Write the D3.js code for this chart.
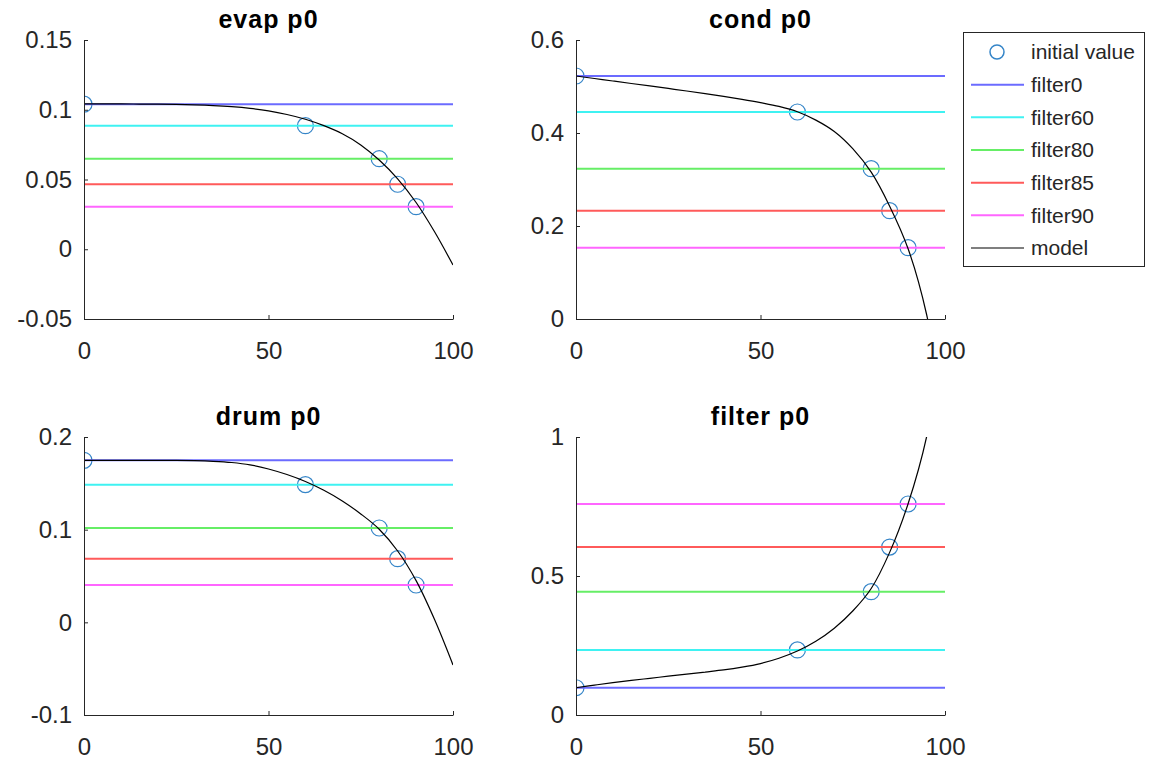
<!DOCTYPE html>
<html lang="en">
<head>
  <meta charset="UTF-8">
  <title>p0 filters</title>
  <style>
    body { margin: 0; background: #fff; }
    svg { font-family: "Liberation Sans", Arial, sans-serif; }
    .tick text { fill: #262626; font-size: 24px; }
    .domain, .tick line { stroke: #262626; stroke-width: 1; }
    .title { font-size: 25px; font-weight: bold; fill: #000; letter-spacing: 1px; }
    .legend text { font-size: 21px; fill: #262626; }
  </style>
</head>
<body>
  <script src="https://d3js.org/d3.v7.min.js"></script>
  <script>
    // x positions of the initial values (filter percentages)
    const filterX = [0, 60, 80, 85, 90];
    const seriesNames = ["filter0", "filter60", "filter80", "filter85", "filter90"];
    const seriesColors = ["#6b6bff", "#3ff2f2", "#66ee66", "#ff5a5a", "#ff66ff"];
    const panelTitles = ["evap p0", "cond p0", "drum p0", "filter p0"];
    const xTicks = [0, 50, 100];

    // initial values, one per filter
    const evapInit = [0.104, 0.0886, 0.0649, 0.0466, 0.0305];
    const condInit = [0.5226, 0.4452, 0.3233, 0.2330, 0.1534];
    const drumInit = [0.1748, 0.1486, 0.1018, 0.0687, 0.0403];
    const filterInit = [0.098, 0.234, 0.4436, 0.604, 0.759];

    // model curve, every 5 units
    const modelX = [0, 5, 10, 15, 20, 25, 30, 35, 40, 45, 50, 55, 60, 65, 70, 75, 80, 85, 90, 95, 100];
    const evapModel = [0.1042, 0.1042, 0.1042, 0.1041, 0.1040, 0.1038, 0.1035, 0.1030, 0.1022, 0.1010, 0.0992,
                       0.0966, 0.0932, 0.0886, 0.0828, 0.0748, 0.0640, 0.0505, 0.0335, 0.0125, -0.0113];
    const condModel = [0.5226, 0.5172, 0.5118, 0.5065, 0.5012, 0.4958, 0.4903, 0.4846, 0.4786, 0.4722, 0.4652,
                       0.4572, 0.4457, 0.4277, 0.4032, 0.3662, 0.3157, 0.2427, 0.1512, 0.0102, -0.2218];
    const drumModel = [0.1748, 0.1748, 0.1748, 0.1748, 0.1748, 0.1748, 0.1745, 0.1738, 0.1725, 0.1700, 0.1655,
                       0.1595, 0.1520, 0.1425, 0.1310, 0.1170, 0.1005, 0.0770, 0.0450, 0.0030, -0.0460];
    const filterModel = [0.098, 0.1075, 0.1165, 0.1245, 0.132, 0.1395, 0.147, 0.1545, 0.162, 0.172, 0.185,
                         0.204, 0.230, 0.265, 0.312, 0.374, 0.455, 0.585, 0.760, 1.0, 1.4];

    // y limits and ticks per panel
    const yDomains = [[-0.05, 0.15], [0, 0.6], [-0.1, 0.2], [0, 1]];
    const yTicks = [[-0.05, 0, 0.05, 0.1, 0.15], [0, 0.2, 0.4, 0.6], [-0.1, 0, 0.1, 0.2], [0, 0.5, 1]];

    const inits = [evapInit, condInit, drumInit, filterInit];
    const models = [evapModel, condModel, drumModel, filterModel];

    // axes boxes in pixels
    const boxes = [
      {left: 84, right: 453, top: 40, bottom: 319},
      {left: 576, right: 945, top: 40, bottom: 319},
      {left: 84, right: 453, top: 437, bottom: 715},
      {left: 576, right: 945, top: 437, bottom: 715}
    ];

    const width = 1149, height = 764;
    const svg = d3.select("body").append("svg")
      .attr("width", width)
      .attr("height", height);

    const defs = svg.append("defs");

    boxes.forEach((b, i) => {
      const x = d3.scaleLinear().domain([0, 100]).range([b.left, b.right]);
      const y = d3.scaleLinear().domain(yDomains[i]).range([b.bottom, b.top]);

      defs.append("clipPath").attr("id", "clip" + i)
        .append("rect")
          .attr("x", b.left).attr("y", b.top)
          .attr("width", b.right - b.left).attr("height", b.bottom - b.top);

      const g = svg.append("g");
      const plot = g.append("g").attr("clip-path", `url(#clip${i})`);

      // initial values
      plot.selectAll("circle")
        .data(filterX.map((fx, k) => ({x: fx, y: inits[i][k]})))
        .enter().append("circle")
          .attr("cx", d => x(d.x))
          .attr("cy", d => y(d.y))
          .attr("r", 8)
          .attr("fill", "none")
          .attr("stroke", "#3585c8")
          .attr("stroke-width", 1.2);

      // one horizontal line per filter
      plot.selectAll("line.filt")
        .data(inits[i])
        .enter().append("line")
          .attr("class", "filt")
          .attr("x1", x(0)).attr("x2", x(100))
          .attr("y1", d => y(d)).attr("y2", d => y(d))
          .attr("stroke", (d, k) => seriesColors[k])
          .attr("stroke-width", 2);

      // model
      const line = d3.line()
        .x((d, k) => x(modelX[k]))
        .y(d => y(d))
        .curve(d3.curveCatmullRom.alpha(0.5));
      plot.append("path")
        .datum(models[i])
        .attr("d", line)
        .attr("fill", "none")
        .attr("stroke", "#000")
        .attr("stroke-width", 1.2);

      // axes
      g.append("g")
        .attr("transform", `translate(0,${b.bottom})`)
        .call(d3.axisBottom(x).tickValues(xTicks).tickSize(-4).tickSizeOuter(0).tickPadding(23).tickFormat(d => String(d)));
      g.append("g")
        .attr("transform", `translate(${b.left},0)`)
        .call(d3.axisLeft(y).tickValues(yTicks[i]).tickSize(-4).tickSizeOuter(0).tickPadding(12).tickFormat(d => String(d)));
      g.selectAll(".tick text").attr("font-size", null).attr("font-family", null);

      g.append("text")
        .attr("class", "title")
        .attr("x", (b.left + b.right) / 2)
        .attr("y", b.top - 12)
        .attr("text-anchor", "middle")
        .text(panelTitles[i]);
    });

    // legend
    const legend = svg.append("g").attr("class", "legend");
    legend.append("rect")
      .attr("x", 963.5).attr("y", 32.5)
      .attr("width", 181).attr("height", 234)
      .attr("fill", "#fff")
      .attr("stroke", "#262626")
      .attr("stroke-width", 1);

    const legendItems = [{name: "initial value", type: "circle"}]
      .concat(seriesNames.map((n, k) => ({name: n, type: "line", color: seriesColors[k]})))
      .concat([{name: "model", type: "line", color: "#000"}]);
    const rowY = d3.scalePoint().domain(legendItems.map(d => d.name)).range([52, 248]);

    legendItems.forEach(d => {
      const cy = rowY(d.name);
      if (d.type === "circle") {
        legend.append("circle")
          .attr("cx", 997).attr("cy", cy).attr("r", 7)
          .attr("fill", "none").attr("stroke", "#3585c8").attr("stroke-width", 1.5);
      } else {
        legend.append("line")
          .attr("x1", 971).attr("x2", 1024)
          .attr("y1", cy).attr("y2", cy)
          .attr("stroke", d.color)
          .attr("stroke-width", d.name === "model" ? 1.2 : 2);
      }
      legend.append("text")
        .attr("x", 1031).attr("y", cy)
        .attr("dy", "0.35em")
        .text(d.name);
    });
  </script>
</body>
</html>
